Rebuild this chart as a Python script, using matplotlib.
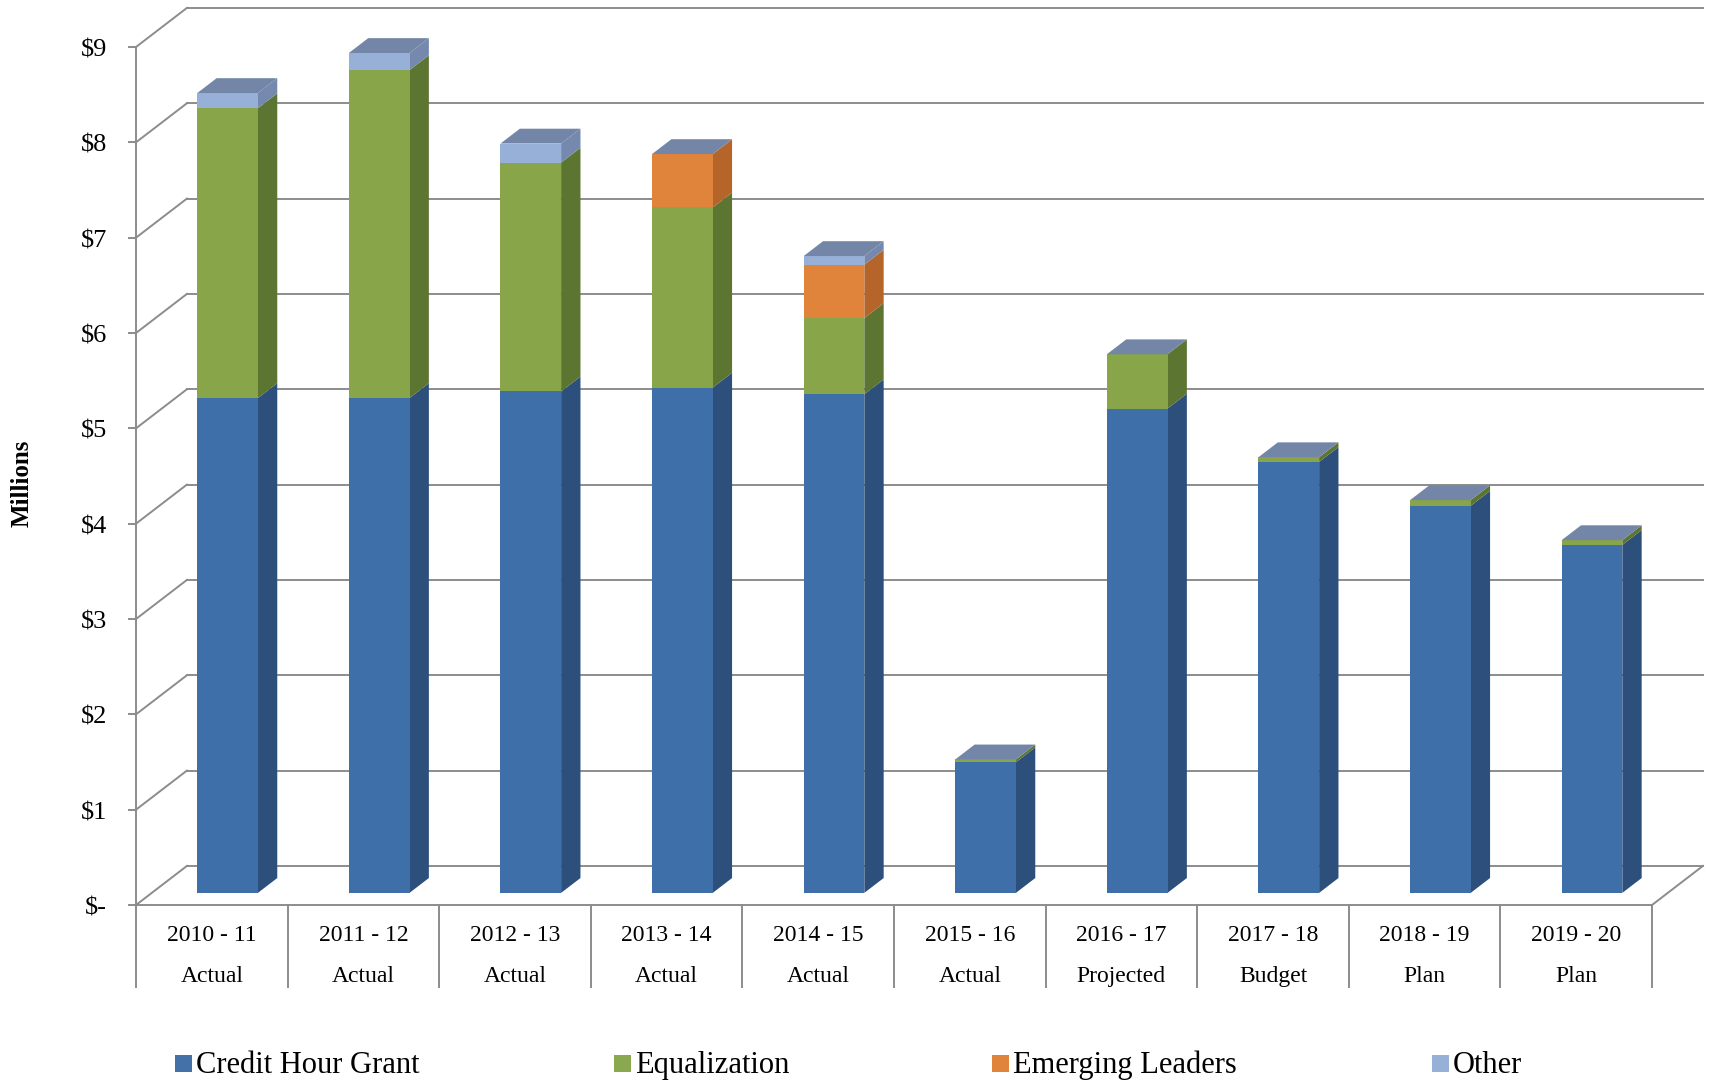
import matplotlib
matplotlib.use("Agg")
import matplotlib.pyplot as plt
from matplotlib.patches import Polygon, Rectangle
import numpy as np

plt.rcParams['font.family'] = ['Liberation Serif', 'DejaVu Serif']

years = ["2010 - 11", "2011 - 12", "2012 - 13", "2013 - 14", "2014 - 15",
         "2015 - 16", "2016 - 17", "2017 - 18", "2018 - 19", "2019 - 20"]
kinds = ["Actual", "Actual", "Actual", "Actual", "Actual",
         "Actual", "Projected", "Budget", "Plan", "Plan"]
credit_hour = [5.19, 5.19, 5.26, 5.30, 5.23, 1.37, 5.08, 4.52, 4.06, 3.65]
equalization = [3.04, 3.44, 2.40, 1.89, 0.80, 0.03, 0.57, 0.05, 0.06, 0.05]
emerging = [0.0, 0.0, 0.0, 0.56, 0.56, 0.0, 0.0, 0.0, 0.0, 0.0]
other = [0.16, 0.18, 0.20, 0.0, 0.09, 0.0, 0.0, 0.0, 0.0, 0.0]
series_names = ["Credit Hour Grant", "Equalization", "Emerging Leaders", "Other"]
yticks = list(range(0, 10))
ytick_labels = ["$-"] + [f"${v}" for v in range(1, 10)]

front_cols = ["#3f6fa8", "#88a54a", "#e0843b", "#97b0d8"]
side_cols = ["#2c4f7c", "#5c7531", "#b5652a", "#7489ad"]
top_col = "#7386a8"
legend_cols = ["#4472a8", "#8aa84f", "#e0843b", "#97b0d8"]
grid_col = "#8c8c8c"

W, H = 1710, 1081
fig = plt.figure(figsize=(W / 100, H / 100), dpi=100)
left_px, right_px, top_px, bot_px = 136, 1652, 47, 905
ax = fig.add_axes([left_px / W, 1 - bot_px / H, (right_px - left_px) / W, (bot_px - top_px) / H])
ax.set_xlim(-0.5, 9.5)
ax.set_ylim(0, 9)
ax.axis('off')

n = len(years)
DX, DY = 0.336, 0.41   # full depth offset (category units, value units)
f0, fd = 0.31, 0.38    # bar front depth fraction, bar depth fraction
bw = 0.40

lw = 1.4
# back wall gridlines and left diagonals
for v in yticks:
    ax.plot([-0.5 + DX, n - 0.5 + DX], [v + DY, v + DY], color=grid_col, lw=lw, clip_on=False, zorder=1)
    ax.plot([-0.5, -0.5 + DX], [v, v + DY], color=grid_col, lw=lw, clip_on=False, zorder=1)
    ax.plot([-0.5 - 0.046, -0.5], [v, v], color=grid_col, lw=lw, clip_on=False, zorder=1)
    ax.text(-0.69, v - 0.035, ytick_labels[v], ha='right', va='center', fontsize=19, clip_on=False)
# floor
ax.plot([-0.5, n - 0.5], [0, 0], color=grid_col, lw=lw, clip_on=False, zorder=1)
ax.plot([n - 0.5, n - 0.5 + DX], [0, DY], color=grid_col, lw=lw, clip_on=False, zorder=1)
# front vertical axis
ax.plot([-0.5, -0.5], [0, 9], color=grid_col, lw=lw, clip_on=False, zorder=1)

# category table
for k in range(n + 1):
    ax.plot([-0.5 + k, -0.5 + k], [0, -0.86], color=grid_col, lw=lw, clip_on=False, zorder=1)
for i in range(n):
    ax.text(i, -0.318, years[i], ha='center', va='center', fontsize=17, clip_on=False)
    ax.text(i, -0.748, kinds[i], ha='center', va='center', fontsize=17, clip_on=False)

# bars
data = [credit_hour, equalization, emerging, other]
x = np.arange(n)
xl = x - bw / 2 + f0 * DX
xr = xl + bw
bottom = np.zeros(n) + f0 * DY
ddx, ddy = fd * DX, fd * DY
for s in range(4):
    vals = np.array(data[s])
    ax.bar(xl, vals, width=bw, bottom=bottom, align='edge', color=front_cols[s],
           linewidth=0, zorder=3, clip_on=False)
    for i in range(n):
        if vals[i] <= 0:
            continue
        b, t = bottom[i], bottom[i] + vals[i]
        poly = Polygon([(xr[i], b), (xr[i] + ddx, b + ddy), (xr[i] + ddx, t + ddy), (xr[i], t)],
                       closed=True, facecolor=side_cols[s], edgecolor='none', zorder=2.5, clip_on=False)
        ax.add_patch(poly)
    bottom = bottom + vals
for i in range(n):
    T = bottom[i]
    poly = Polygon([(xl[i], T), (xr[i], T), (xr[i] + ddx, T + ddy), (xl[i] + ddx, T + ddy)],
                   closed=True, facecolor=top_col, edgecolor='none', zorder=3.5, clip_on=False)
    ax.add_patch(poly)

# y label
fig.text(22 / W, 1 - 483 / H, "Millions", rotation=90, ha='center', va='center',
         fontsize=18, fontweight='bold')

# legend
leg_x = [175, 614, 992, 1432]
ly = 1 - 1063 / H
sq = 17
for s in range(4):
    fig.patches.append(Rectangle((leg_x[s] / W, ly - (sq / 2) / H), sq / W, sq / H,
                                 transform=fig.transFigure, facecolor=legend_cols[s],
                                 edgecolor='none'))
    fig.text((leg_x[s] + sq + 4) / W, ly - 2.5 / H, series_names[s], ha='left', va='center', fontsize=22)

fig.savefig("out.png", dpi=100)
